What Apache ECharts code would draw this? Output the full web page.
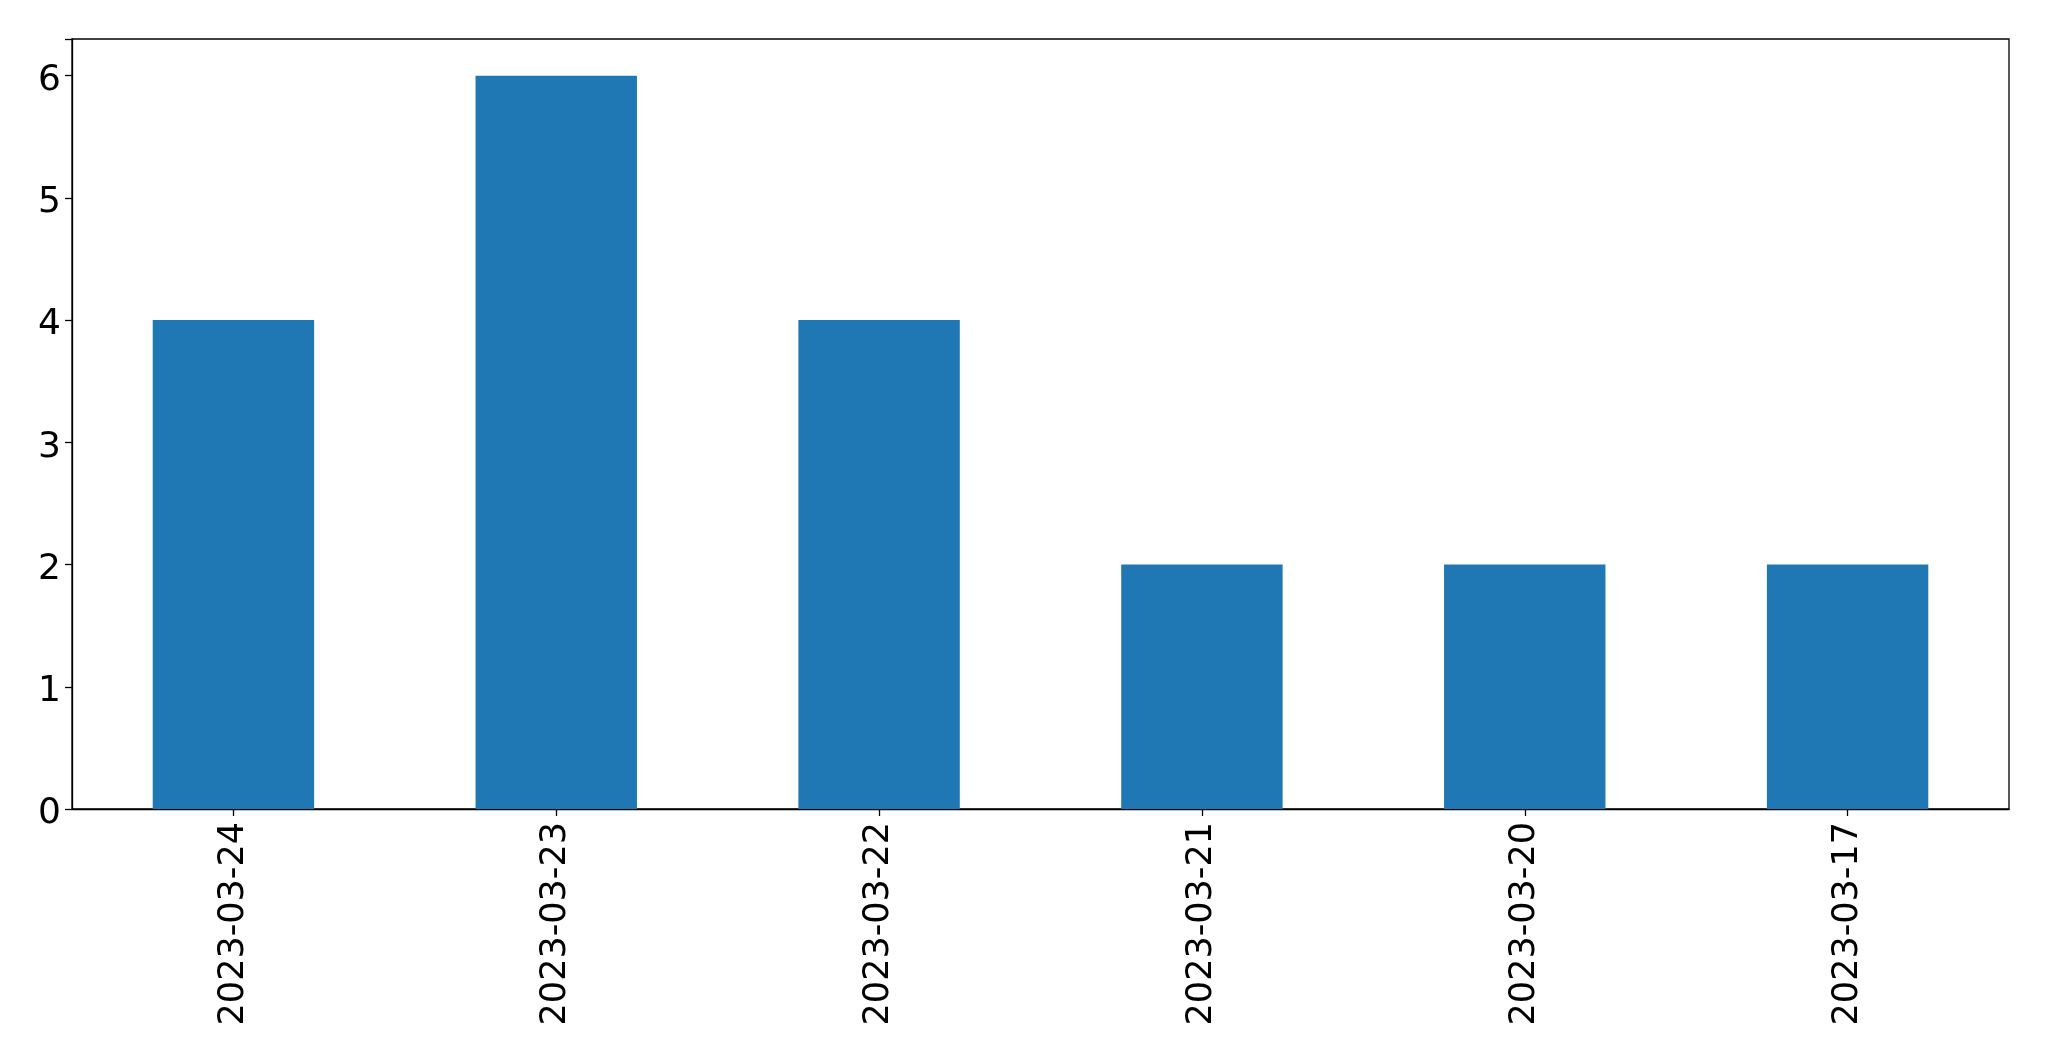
<!DOCTYPE html>
<html>
<head>
<meta charset="utf-8">
<script src="https://cdn.jsdelivr.net/npm/echarts@6/dist/echarts.min.js"></script>
<style>
html,body{margin:0;padding:0;background:#fff;}
#chart{width:2049px;height:1061px;}
</style>
</head>
<body>
<div id="chart"></div>
<script>
const categories = ['2023-03-24','2023-03-23','2023-03-22','2023-03-21','2023-03-20','2023-03-17'];
const counts = [4, 6, 4, 2, 2, 2];
const yTicks = [0, 1, 2, 3, 4, 5, 6];

const chart = echarts.init(document.getElementById('chart'), null, {renderer: 'canvas'});
const font = 'DejaVu Sans';
chart.setOption({
  animation: false,
  backgroundColor: '#ffffff',
  grid: {
    left: 72, right: 40, top: 39, bottom: 252,
    show: true, borderColor: '#000', borderWidth: 1.3, backgroundColor: 'transparent'
  },
  xAxis: {
    type: 'category',
    data: categories,
    axisLine: {show: true, lineStyle: {color: '#000', width: 1.3}},
    axisTick: {show: true, alignWithLabel: true, length: 7, lineStyle: {color: '#000', width: 1.3}},
    axisLabel: {rotate: 90, margin: 13, fontSize: 35, fontFamily: font, color: '#000', interval: 0}
  },
  yAxis: {
    type: 'value',
    min: 0, max: 6.3, interval: 1,
    axisLine: {show: true, lineStyle: {color: '#000', width: 1.3}},
    axisTick: {show: true, length: 7, lineStyle: {color: '#000', width: 1.3}},
    splitLine: {show: false},
    axisLabel: {
      margin: 11, fontSize: 36, fontFamily: font, color: '#000',
      formatter: function (v) { return yTicks.indexOf(v) >= 0 ? '{n|' + v + '}' : ''; },
      rich: {n: {fontSize: 36, fontFamily: font, color: '#000', padding: [10, 0, 0, 0]}}
    }
  },
  series: [{
    type: 'bar',
    data: counts,
    barWidth: '50%',
    itemStyle: {color: '#1f77b4'}
  }]
});
</script>
</body>
</html>
